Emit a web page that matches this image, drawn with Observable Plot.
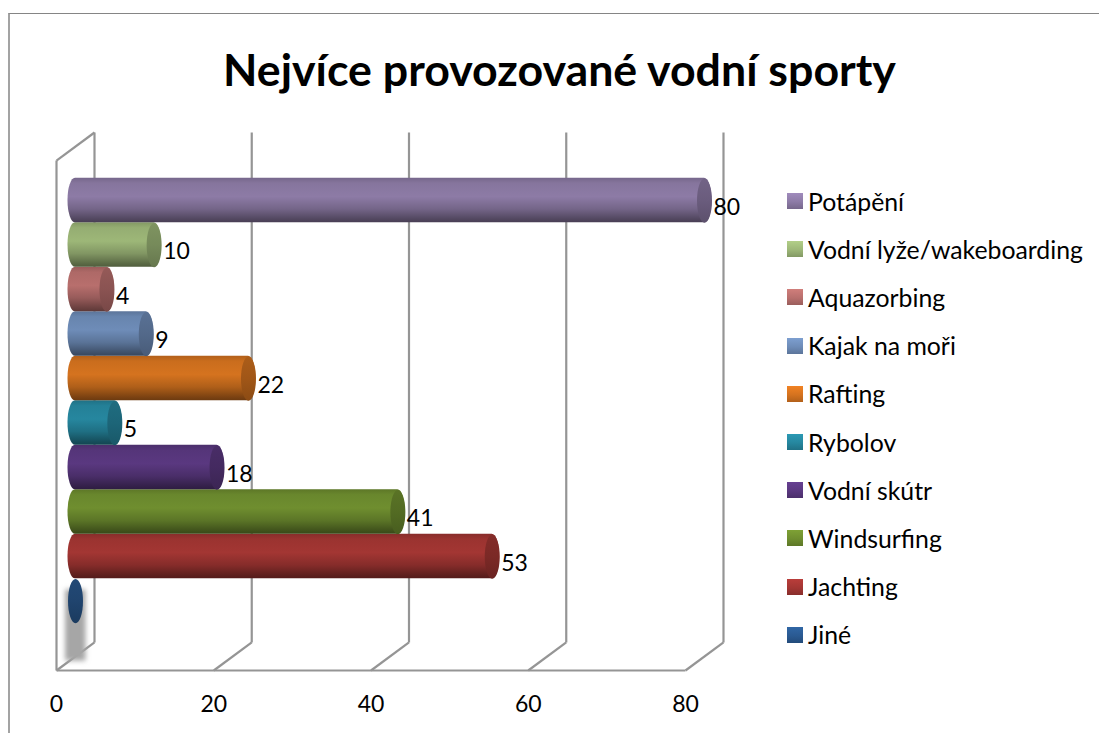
<!DOCTYPE html>
<html lang="cs">
<head>
<meta charset="utf-8">
<script src="https://cdn.jsdelivr.net/npm/d3@7"></script>
<script src="https://cdn.jsdelivr.net/npm/@observablehq/plot@0.6"></script>
<style>
html,body{margin:0;padding:0;background:#fff;}
#page{position:relative;width:1099px;height:733px;overflow:hidden;font-family:Lato,"Noto Sans",sans-serif;color:#000;}
#border{position:absolute;left:8px;top:13px;right:-4px;bottom:-4px;border-left:2px solid #a3a3a3;border-top:1px solid #858585;}
#title{position:relative;height:120px;box-sizing:border-box;padding-top:41px;text-align:center;padding-left:20px;font-size:44.7px;line-height:56px;font-weight:700;}
#legend{position:absolute;left:787px;top:177px;}
#legend .row{display:flex;align-items:center;height:48.2px;font-size:24.8px;white-space:nowrap;}
#legend .sw{width:16px;height:16px;margin-right:5px;flex:none;}
svg{display:block;}
</style>
</head>
<body>
<div id="page">
  <div id="border"></div>
  <div id="title">Nejvíce provozované vodní sporty</div>
  <div id="chart"></div>
  <div id="legend"></div>
</div>
<script>
// bottom to top
const categories = ["Jiné","Jachting","Windsurfing","Vodní skútr","Rybolov","Rafting","Kajak na moři","Aquazorbing","Vodní lyže/wakeboarding","Potápění"];
const values = [0,53,41,18,5,22,9,4,10,80];
const colors = ["#2a5a92","#a33633","#6f8e2f","#5a3880","#26879f","#d5731f","#6e8cb8","#b86f6d","#9db778","#8d7ba6"];
const xTicks = [0,20,40,60,80];

const table = categories.map((name,i)=>({name,value:values[i],color:colors[i],slot:i,id:"g"+i}));
const shade=(c,k)=>d3.rgb(c).darker(k).formatHex();

// depth of the 3D box, in data units of each scale
const depthX = 38/7.8625, depthY = 0.63;
const floorY = -1.06, topY = 10.4;
const gridBack = xTicks.map(v=>v+depthX);

const defs = () => {
  const d = d3.create("svg:defs");
  for (const r of table){
    const g = d.append("linearGradient").attr("id",r.id).attr("x1",0).attr("x2",0).attr("y1",0).attr("y2",1);
    [[0,shade(r.color,.5)],[.12,shade(r.color,.15)],[.42,r.color],[.7,shade(r.color,.55)],[.92,shade(r.color,1.5)],[1,shade(r.color,1.9)]]
      .forEach(([o,c])=>g.append("stop").attr("offset",o).attr("stop-color",c));
    const c = d.append("linearGradient").attr("id",r.id+"c").attr("x1",0).attr("x2",0).attr("y1",0).attr("y2",1);
    [[0,shade(r.color,.6)],[.5,shade(r.color,.8)],[1,shade(r.color,1.2)]]
      .forEach(([o,s])=>c.append("stop").attr("offset",o).attr("stop-color",s));
  }
  const f = d.append("filter").attr("id","blur").attr("x","-50%").attr("width","200%").attr("y","-20%").attr("height","140%");
  f.append("feGaussianBlur").attr("stdDeviation",2.5);
  return d.node();
};
const capSymbol = {draw(ctx){
  const rx=7.5, ry=22.2, k=.5523;
  ctx.moveTo(rx,0);
  ctx.bezierCurveTo(rx,k*ry,k*rx,ry,0,ry);
  ctx.bezierCurveTo(-k*rx,ry,-rx,k*ry,-rx,0);
  ctx.bezierCurveTo(-rx,-k*ry,-k*rx,-ry,0,-ry);
  ctx.bezierCurveTo(k*rx,-ry,rx,-k*ry,rx,0);
  ctx.closePath();
}};
const lineStyle = {stroke:"#959595",strokeWidth:2.2};
const shown = table.filter(r=>r.value>0);
const blurred = (i,s,v,d,c,next)=>{const g=next(i,s,v,d,c); g.setAttribute("filter","url(#blur)"); return g;};

const chart = Plot.plot({
  width:1099,height:613,
  marginLeft:56,marginRight:376,marginTop:12,marginBottom:63,
  x:{domain:[0,80+depthX],range:[56,723],axis:null},
  y:{domain:[floorY,topY+depthY],range:[550,12],axis:null},
  style:{fontFamily:"Lato,'Noto Sans',sans-serif",fontSize:"23px",color:"#000",background:"transparent",overflow:"visible"},
  marks:[
    defs,
    // back wall gridlines
    Plot.link(gridBack,{x1:d=>d,x2:d=>d,y1:()=>floorY+depthY,y2:()=>topY+depthY,...lineStyle}),
    // floor diagonals
    Plot.link(xTicks,{x1:d=>d,x2:d=>d+depthX,y1:()=>floorY,y2:()=>floorY+depthY,...lineStyle}),
    // grey shadow under the zero-value cylinder
    Plot.rect([0],{x1:()=>1.15,x2:()=>3.75,y1:()=>-.85,y2:()=>.75,fill:"#a6a6a6",render:blurred}),
    // left front edge, top-left diagonal, floor front edge
    Plot.link([0],{x1:d=>d,x2:d=>d,y1:()=>floorY,y2:()=>topY,...lineStyle}),
    Plot.link([0],{x1:d=>d,x2:d=>d+depthX,y1:()=>topY,y2:()=>topY+depthY,...lineStyle}),
    Plot.link([0],{x1:()=>0,x2:()=>80,y1:()=>floorY,y2:()=>floorY,...lineStyle}),
    // cylinders
    Plot.rectX(shown,{x1:()=>0,x2:"value",y1:"slot",y2:d=>d.slot+1,dx:19,insetLeft:-7.5,insetRight:-7.5,rx:7.5,ry:22,
      fill:d=>`url(#${d.id})`}),
    Plot.dot(table,{x:"value",y:d=>d.slot+.5,dx:19,symbol:capSymbol,fill:d=>`url(#${d.id}c)`}),
    // value labels
    Plot.text(shown,{x:"value",y:d=>d.slot+.5,text:d=>String(d.value),dx:28,dy:7,textAnchor:"start",fontSize:23,fill:"#000"}),
    Plot.axisX(xTicks,{tickSize:0,tickPadding:25,fontSize:23,label:null,fill:"#000"})
  ]
});
document.getElementById("chart").append(chart);

const legend = d3.select("#legend");
for (const r of table.slice().reverse()){
  const row = legend.append("div").attr("class","row");
  row.append("span").attr("class","sw")
    .style("background",`linear-gradient(${d3.rgb(r.color).brighter(.35).formatHex()},${r.color} 55%,${shade(r.color,.5)})`);
  row.append("span").text(r.name);
}
</script>
</body>
</html>
